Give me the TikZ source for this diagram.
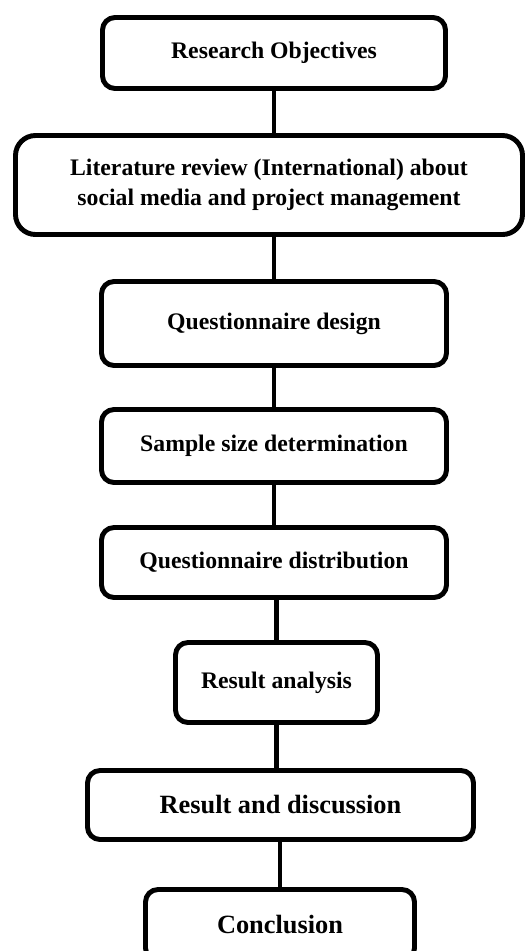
\documentclass[tikz,border=0pt]{standalone}
\usepackage{fontspec}
\setmainfont{Liberation Serif}
\usetikzlibrary{positioning}

\begin{document}
\begin{tikzpicture}[
    stage/.style={rectangle, draw, line width=2.8pt, rounded corners=0.25cm, fill=white, align=center, inner sep=0pt, font=\fontsize{13.5}{17}\selectfont\bfseries},
    bigstage/.style={stage, font=\fontsize{15}{18}\selectfont\bfseries},
    link/.style={draw, line width=2.8pt}
]

% Page
\fill[white] (0,0) rectangle (10.5,-19.02);
\useasboundingbox (0,0) rectangle (10.5,-19.02);

% Stages
\node[stage, minimum width=6.86cm, minimum height=1.42cm] (objectives) at (5.48,-1.06) {Research Objectives};
\node[stage, rounded corners=0.4cm, minimum width=10.14cm, minimum height=1.98cm] (review) at (5.38,-3.70) {Literature review (International) about\\social media and project management};
\node[stage, minimum width=6.9cm, minimum height=1.68cm] (design) at (5.48,-6.47) {Questionnaire design};
\node[stage, minimum width=6.9cm, minimum height=1.46cm] (sample) at (5.48,-8.92) {Sample size determination};
\node[stage, minimum width=6.9cm, minimum height=1.40cm] (distribution) at (5.48,-11.25) {Questionnaire distribution};
\node[stage, minimum width=4.04cm, minimum height=1.6cm] (analysis) at (5.53,-13.65) {Result analysis};
\node[bigstage, minimum width=7.72cm, minimum height=1.38cm] (discussion) at (5.61,-16.10) {Result and discussion};
\node[bigstage, minimum width=5.38cm, minimum height=1.42cm] (conclusion) at (5.60,-18.5) {Conclusion};

% Connectors
\draw[link] (objectives.south) -- (objectives.south |- review.north);
\draw[link] (design.north) -- (design.north |- review.south);
\draw[link] (design.south) -- (sample.north);
\draw[link] (sample.south) -- (distribution.north);
\draw[link] (analysis.north) -- (analysis.north |- distribution.south);
\draw[link] (analysis.south) -- (analysis.south |- discussion.north);
\draw[link] (conclusion.north) -- (conclusion.north |- discussion.south);

\end{tikzpicture}
\end{document}
